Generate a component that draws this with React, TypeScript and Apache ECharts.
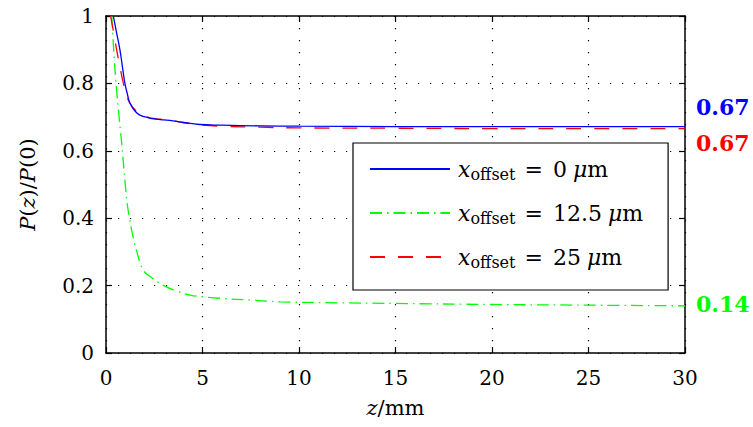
import React, { useEffect, useRef } from "react";
import * as echarts from "echarts";

// z in mm, P(z)/P(0)
const zBlue = [0.38, 0.55, 0.72, 0.85, 0.98, 1.1, 1.24, 1.5, 1.76, 2.2, 2.6, 3.0, 3.47, 4.0, 4.86, 6, 8, 10, 15, 20, 25, 30];
const pBlue = [1.0, 0.95, 0.9, 0.85, 0.8, 0.77, 0.742, 0.718, 0.706, 0.698, 0.694, 0.692, 0.689, 0.684, 0.678, 0.676, 0.674, 0.673, 0.672, 0.672, 0.672, 0.672];

const zGreen = [0.3, 0.42, 0.55, 0.68, 0.8, 1.0, 1.12, 1.36, 1.6, 1.93, 2.4, 3, 3.6, 4.35, 5, 6, 7.5, 9, 12, 15, 20, 25, 30];
const pGreen = [1.0, 0.88, 0.78, 0.7, 0.63, 0.5, 0.434, 0.356, 0.3, 0.246, 0.222, 0.2, 0.185, 0.172, 0.167, 0.162, 0.157, 0.152, 0.149, 0.147, 0.144, 0.142, 0.14];

const zRed = [0.24, 0.4, 0.55, 0.72, 0.9, 1.05, 1.2, 1.5, 1.8, 2.2, 2.6, 3.0, 3.5, 4.0, 4.9, 6, 8, 10, 15, 20, 25, 30];
const pRed = [1.0, 0.95, 0.9, 0.85, 0.8, 0.77, 0.745, 0.722, 0.71, 0.699, 0.695, 0.693, 0.689, 0.684, 0.677, 0.673, 0.67, 0.668, 0.667, 0.666, 0.666, 0.666];

const offsets = ["0", "12.5", "25"];
const seriesNames = ["x_offset = 0 μm", "x_offset = 12.5 μm", "x_offset = 25 μm"];
const xTicks = { min: 0, max: 30, interval: 5 };
const yTicks = { min: 0, max: 1, interval: 0.2 };

const FONT = "DejaVu Serif";

const pairs = (zs: number[], ps: number[]) => zs.map((z, i) => [z, ps[i]]);

export default function App() {
  const ref = useRef<HTMLDivElement>(null);
  useEffect(() => {
    const chart = echarts.init(ref.current!, null, { renderer: "svg" });
    const tickAxisCommon = {
      axisLine: { show: true, onZero: false, lineStyle: { color: "#000", width: 1.5 } },
      axisTick: { show: true, inside: true, length: 6, lineStyle: { color: "#000", width: 1.2 } },
    };
    const endLabel = (color: string, dy: number) => ({
      show: true,
      formatter: (p: any) => p.value[1].toFixed(2),
      color,
      fontFamily: FONT,
      fontWeight: "bold",
      fontSize: 22,
      distance: 11,
      offset: [0, dy],
    });
    const richLegend = {
      i: { fontFamily: FONT, fontStyle: "italic", fontSize: 22, lineHeight: 26, color: "#000" },
      n: { fontFamily: FONT, fontSize: 22, lineHeight: 26, color: "#000" },
      s: { fontFamily: FONT, fontSize: 16, lineHeight: 10, verticalAlign: "bottom", color: "#000" },
      p: { width: 3 },
      g: { width: 9 },
      h: { width: 10 },
      t: { width: 6 },
    };
    const nameRich = {
      i: { fontFamily: FONT, fontStyle: "italic", fontSize: 21, color: "#000" },
      n: { fontFamily: FONT, fontSize: 21, color: "#000" },
    };
    chart.setOption({
      animation: false,
      backgroundColor: "#fff",
      grid: { left: 106, right: 68, top: 16, bottom: 74, containLabel: false },
      legend: {
        orient: "vertical",
        left: 353,
        top: 143,
        backgroundColor: "#fff",
        borderColor: "#000",
        borderWidth: 1.2,
        borderRadius: 0,
        padding: [15, 25, 20, 16],
        itemWidth: 80,
        itemHeight: 14,
        itemGap: 20,
        itemStyle: { opacity: 0 },
        data: seriesNames,
        formatter: (name: string) => {
          const idx = seriesNames.indexOf(name);
          return `{p|}{i|x}{s|offset}{g|}{n|=}{h|}{n|${offsets[idx]}}{t|}{i|μ}{n|m}`;
        },
        textStyle: { fontFamily: FONT, fontSize: 22, color: "#000", rich: richLegend },
      },
      xAxis: [
        {
          type: "value",
          position: "bottom",
          ...xTicks,
          ...tickAxisCommon,
          axisLabel: { color: "#000", fontFamily: FONT, fontSize: 20, margin: 15 },
          splitLine: { show: true, lineStyle: { color: "#000", width: 1.2, type: [1.2, 10.8] } },
          name: "{i|z}{n|/mm}",
          nameLocation: "middle",
          nameGap: 44,
          nameTextStyle: { fontFamily: FONT, fontSize: 21, rich: nameRich },
        },
        {
          type: "value",
          position: "top",
          ...xTicks,
          ...tickAxisCommon,
          axisLabel: { show: false },
          splitLine: { show: false },
        },
      ],
      yAxis: [
        {
          type: "value",
          position: "left",
          ...yTicks,
          ...tickAxisCommon,
          axisLabel: { color: "#000", fontFamily: FONT, fontSize: 20, margin: 12 },
          splitLine: { show: true, lineStyle: { color: "#000", width: 1.2, type: [1.2, 10.8] } },
          name: "{i|P}{n|(}{i|z}{n|)/}{i|P}{n|(0)}",
          nameLocation: "middle",
          nameGap: 68,
          nameTextStyle: { fontFamily: FONT, fontSize: 21, rich: nameRich },
        },
        {
          type: "value",
          position: "right",
          ...yTicks,
          ...tickAxisCommon,
          axisLabel: { show: false },
          splitLine: { show: false },
        },
      ],
      series: [
        {
          name: seriesNames[0],
          type: "line",
          data: pairs(zBlue, pBlue),
          showSymbol: false,
          symbol: "none",
          smooth: 0.45,
          color: "#0000ff",
          lineStyle: { color: "#0000ff", width: 1.3, type: "solid" },
          endLabel: endLabel("#0000ff", -20),
          z: 4,
        },
        {
          name: seriesNames[1],
          type: "line",
          data: pairs(zGreen, pGreen),
          showSymbol: false,
          symbol: "none",
          smooth: 0.4,
          color: "#00ff00",
          lineStyle: { color: "#00ff00", width: 1.3, type: [12, 5, 1.5, 5] },
          endLabel: endLabel("#00ff00", -2),
          z: 3,
        },
        {
          name: seriesNames[2],
          type: "line",
          data: pairs(zRed, pRed),
          showSymbol: false,
          symbol: "none",
          smooth: 0.45,
          color: "#ff0000",
          lineStyle: { color: "#ff0000", width: 1.3, type: [15, 13] },
          endLabel: endLabel("#ff0000", 14),
          z: 3,
        },
      ],
    });
    return () => chart.dispose();
  }, []);
  return (
    <div
      ref={ref}
      style={{ position: "fixed", left: 0, top: 0, width: 753, height: 427, background: "#fff" }}
    />
  );
}
